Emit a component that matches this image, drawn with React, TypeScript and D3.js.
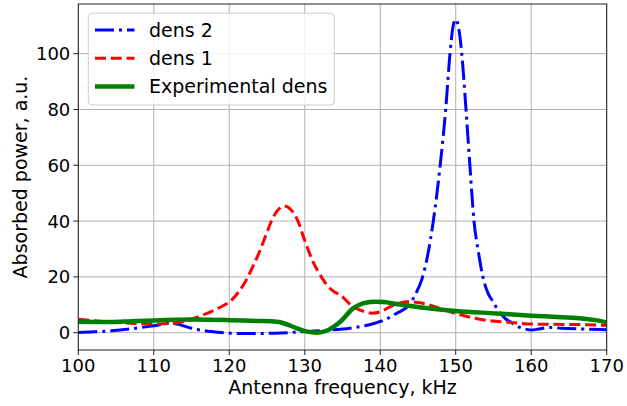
import React from "react";
import * as d3 from "d3";

const xTicks = [100, 110, 120, 130, 140, 150, 160, 170];
const yTicks = [0, 20, 40, 60, 80, 100];

const freqDens2 = [100, 102, 104.4, 107, 110, 112.3, 113.5, 115, 117.6, 120.3, 122.7, 126, 130, 133, 136, 138, 139.5, 140, 142.2, 143.9, 144.6, 145.5, 146.3, 147.03, 147.9, 148.67, 149.24, 149.6, 150, 150.4, 150.8, 151.36, 151.9, 152.42, 153, 153.6, 154.3, 154.8, 155.9, 156.6, 157.4, 158.4, 159.4, 160, 161, 162.5, 164, 167, 170];
const dens2 = [0.1, 0.3, 0.7, 1.4, 2.5, 3.4, 2.8, 1.6, 0.4, -0.2, -0.3, -0.2, 0.4, 0.9, 1.6, 2.5, 3.6, 4.0, 7.0, 10.2, 13.5, 19, 28, 40, 59, 80, 100, 109, 112.3, 109, 100, 80, 59, 40, 29, 20, 14, 11.7, 7.0, 5.0, 3.6, 2.0, 1.2, 1.0, 1.3, 1.9, 1.6, 1.3, 1.1];

const freqDens1 = [100, 102, 104.4, 107, 110, 113.2, 115.9, 118.5, 120.3, 122, 123, 124, 125, 125.5, 126.3, 127.3, 128.2, 129.1, 130, 131, 132.2, 133, 134, 134.7, 136.4, 138, 138.9, 140, 141.3, 143.5, 145, 146.6, 148, 150, 153.2, 157.6, 160, 166.4, 170];
const dens1 = [4.8, 4.3, 3.8, 3.4, 3.1, 3.6, 5.7, 8.7, 11.7, 17.7, 23, 29, 36, 39.5, 43.5, 45.4, 44, 40, 33, 26, 20, 16.8, 14.5, 13.5, 9.3, 7.5, 7.0, 7.5, 9.3, 11.1, 10.8, 9.9, 8.5, 6.9, 4.8, 3.6, 3.1, 2.9, 2.6];

const freqExp = [100, 104.4, 107, 110, 115.4, 120, 123.8, 125.4, 126.3, 127.2, 128.9, 130.3, 131.6, 132.9, 134.7, 136.4, 137.7, 139.1, 140.5, 141.7, 144, 146.6, 150, 155.4, 160, 163, 166.4, 168.5, 170];
const densExp = [3.9, 3.8, 4.1, 4.4, 4.7, 4.5, 4.2, 4.1, 3.9, 3.4, 1.6, 0.4, 0.0, 0.7, 3.9, 8.7, 10.5, 11.1, 11.0, 10.5, 9.6, 8.7, 7.8, 6.9, 6.1, 5.7, 5.2, 4.5, 3.7];

const seriesNames = ["dens 2", "dens 1", "Experimental dens"];

const W = 627;
const H = 406;
const L = 78.3, R = 606.7, T = 4, B = 350;
const FONT = "DejaVu Sans, sans-serif";
const FS_TICK = 18;
const FS = 19;

export default function App() {
  const x = d3.scaleLinear().domain([100, 170]).range([L, R]);
  const y = d3.scaleLinear().domain([-6.2, 117.8]).range([B, T]);
  const line = d3
    .line<[number, number]>()
    .x((d) => x(d[0]))
    .y((d) => y(d[1]))
    .curve(d3.curveMonotoneX);
  const zip = (a: number[], b: number[]) => a.map((v, i) => [v, b[i]] as [number, number]);

  const series = [
    { name: seriesNames[0], d: line(zip(freqDens2, dens2)) || "", color: "#0000ff", w: 3, dash: "19,5,3,5" },
    { name: seriesNames[1], d: line(zip(freqDens1, dens1)) || "", color: "#ff0000", w: 3, dash: "11,4.8" },
    { name: seriesNames[2], d: line(zip(freqExp, densExp)) || "", color: "#008000", w: 4.5, dash: "" },
  ];

  return (
    <svg width={W} height={H} style={{ position: "absolute", left: 0, top: 0 }} fontFamily={FONT}>
      <rect x={0} y={0} width={W} height={H} fill="#fff" />
      <defs>
        <clipPath id="plot">
          <rect x={L} y={T} width={R - L} height={B - T} />
        </clipPath>
      </defs>
      {xTicks.map((t) => (
        <line key={"gx" + t} x1={x(t)} x2={x(t)} y1={T} y2={B} stroke="#b0b0b0" strokeWidth={1} />
      ))}
      {yTicks.map((t) => (
        <line key={"gy" + t} x1={L} x2={R} y1={y(t)} y2={y(t)} stroke="#b0b0b0" strokeWidth={1} />
      ))}
      <g clipPath="url(#plot)">
        {series.map((s) => (
          <path key={s.name} d={s.d} fill="none" stroke={s.color} strokeWidth={s.w} strokeDasharray={s.dash || undefined} strokeLinejoin="round" />
        ))}
      </g>
      <rect x={L} y={T} width={R - L} height={B - T} fill="none" stroke="#222" strokeWidth={1} />
      {xTicks.map((t) => (
        <g key={"tx" + t}>
          <line x1={x(t)} x2={x(t)} y1={B} y2={B + 5} stroke="#222" strokeWidth={1} />
          <text x={x(t)} y={B + 22} fontSize={FS_TICK} textAnchor="middle" fill="#000">
            {t}
          </text>
        </g>
      ))}
      {yTicks.map((t) => (
        <g key={"ty" + t}>
          <line x1={L - 5} x2={L} y1={y(t)} y2={y(t)} stroke="#222" strokeWidth={1} />
          <text x={L - 8} y={y(t)} dy="0.36em" fontSize={FS_TICK} textAnchor="end" fill="#000">
            {t}
          </text>
        </g>
      ))}
      <text x={(L + R) / 2} y={394} fontSize={FS} textAnchor="middle" fill="#000">
        Antenna frequency, kHz
      </text>
      <text transform={`translate(26.5, ${(T + B) / 2}) rotate(-90)`} fontSize={FS} textAnchor="middle" fill="#000">
        Absorbed power, a.u.
      </text>
      <g>
        <rect x={88.3} y={13.3} width={246} height={91.7} rx={4} fill="#fff" fillOpacity={0.8} stroke="#cccccc" strokeWidth={1} />
        {series.map((s, i) => {
          const cy = 30 + i * 28.3;
          return (
            <g key={"lg" + s.name}>
              <line x1={95} x2={134.5} y1={cy} y2={cy} stroke={s.color} strokeWidth={s.w} strokeDasharray={s.dash || undefined} />
              <text x={149} y={cy} dy="0.36em" fontSize={FS} fill="#000">
                {s.name}
              </text>
            </g>
          );
        })}
      </g>
    </svg>
  );
}
